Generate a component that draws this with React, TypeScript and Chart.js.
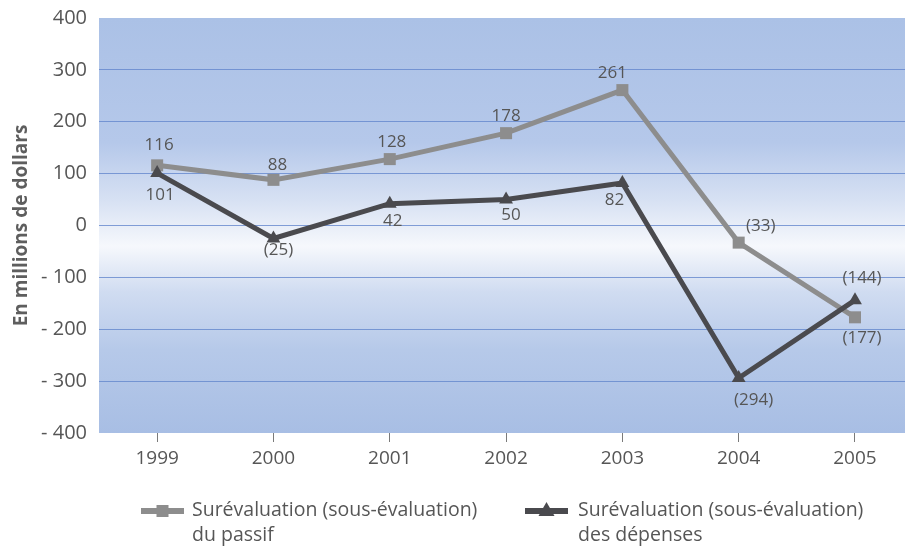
import { useEffect, useRef } from 'react';
import { Chart, registerables } from 'chart.js';

Chart.register(...registerables);

// Years on the horizontal axis
const years = [1999, 2000, 2001, 2002, 2003, 2004, 2005];

// Overstatement (understatement), in millions of dollars
const passif = [116, 88, 128, 178, 261, -33, -177];
const depenses = [101, -25, 42, 50, 82, -294, -144];

// Legend text, one entry per line
const passifLegend = ['Surévaluation (sous-évaluation)', 'du passif'];
const depensesLegend = ['Surévaluation (sous-évaluation)', 'des dépenses'];

const axisTitle = 'En millions de dollars';

// Where each value label sits relative to its point (dx, dy in px)
const passifLabelOffsets = [[2, -20], [4, -15], [2, -17], [0, -17], [-10, -17], [22, -16], [7, 21]];
const depensesLabelOffsets = [[3, 22], [5, 12], [3, 17], [5, 16], [-8, 17], [15, 22], [7, -22]];

const PASSIF_COLOR = '#8d8d8d';
const DEPENSES_COLOR = '#4a4a4e';
const TEXT_COLOR = '#565656';
const FONT = '"Open Sans", "Noto Sans", sans-serif';

const fmtValue = (v: number) => (v < 0 ? `(${Math.abs(v)})` : `${v}`);

const backgroundPlugin = {
  id: 'plotBackground',
  beforeDraw(chart: any) {
    const { ctx, chartArea } = chart;
    if (!chartArea) return;
    const { left, top, right, bottom } = chartArea;
    const g = ctx.createLinearGradient(0, top, 0, bottom);
    g.addColorStop(0, '#abc1e6');
    g.addColorStop(0.3, '#b5c8ea');
    g.addColorStop(0.44, '#d7e1f3');
    g.addColorStop(0.55, '#f6f8fc');
    g.addColorStop(0.66, '#d0dcf1');
    g.addColorStop(0.8, '#b6c9e9');
    g.addColorStop(1, '#a8bee4');
    ctx.save();
    ctx.fillStyle = g;
    ctx.fillRect(left, top, right - left, bottom - top);
    ctx.restore();
  },
};

const valueLabelPlugin = {
  id: 'valueLabels',
  afterDatasetsDraw(chart: any) {
    const { ctx } = chart;
    const offsets = [passifLabelOffsets, depensesLabelOffsets];
    ctx.save();
    ctx.font = `17px ${FONT}`;
    ctx.fillStyle = TEXT_COLOR;
    ctx.textAlign = 'center';
    ctx.textBaseline = 'middle';
    chart.data.datasets.forEach((ds: any, di: number) => {
      const meta = chart.getDatasetMeta(di);
      meta.data.forEach((pt: any, i: number) => {
        const [dx, dy] = offsets[di][i];
        ctx.fillText(fmtValue(ds.data[i].y), pt.x + dx, pt.y + dy);
      });
    });
    ctx.restore();
  },
};

const legendPlugin = {
  id: 'bottomLegend',
  afterDraw(chart: any) {
    const { ctx } = chart;
    const items = [
      { lines: passifLegend, color: PASSIF_COLOR, style: 'rect', x: 141, textX: 192 },
      { lines: depensesLegend, color: DEPENSES_COLOR, style: 'triangle', x: 525, textX: 578 },
    ];
    const y = 511;
    ctx.save();
    items.forEach((it) => {
      ctx.strokeStyle = it.color;
      ctx.lineWidth = 6;
      ctx.beginPath();
      ctx.moveTo(it.x, y);
      ctx.lineTo(it.x + 43, y);
      ctx.stroke();
      ctx.fillStyle = it.color;
      const cx = it.x + 21.5;
      if (it.style === 'rect') {
        ctx.fillRect(cx - 6, y - 6, 12, 12);
      } else {
        ctx.beginPath();
        ctx.moveTo(cx, y - 9);
        ctx.lineTo(cx + 8, y + 5);
        ctx.lineTo(cx - 8, y + 5);
        ctx.closePath();
        ctx.fill();
      }
      ctx.font = `19.5px ${FONT}`;
      ctx.fillStyle = TEXT_COLOR;
      ctx.textAlign = 'left';
      ctx.textBaseline = 'middle';
      it.lines.forEach((line, li) => {
        ctx.fillText(line, it.textX, y - 1 + li * 25);
      });
    });
    ctx.restore();
  },
};

export default function App() {
  const canvasRef = useRef<HTMLCanvasElement | null>(null);

  useEffect(() => {
    const canvas = canvasRef.current;
    if (!canvas) return;
    const chart = new Chart(canvas, {
      type: 'line',
      data: {
        datasets: [
          {
            label: passifLegend.join(' '),
            data: years.map((yr, i) => ({ x: yr, y: passif[i] })),
            borderColor: PASSIF_COLOR,
            backgroundColor: PASSIF_COLOR,
            borderWidth: 5,
            pointStyle: 'rect',
            pointRadius: 8.5,
            pointBorderWidth: 0,
            tension: 0,
            order: 2,
          },
          {
            label: depensesLegend.join(' '),
            data: years.map((yr, i) => ({ x: yr, y: depenses[i] })),
            borderColor: DEPENSES_COLOR,
            backgroundColor: DEPENSES_COLOR,
            borderWidth: 5,
            pointStyle: 'triangle',
            pointRadius: 8,
            pointBorderWidth: 0,
            tension: 0,
            order: 1,
          },
        ],
      },
      options: {
        responsive: false,
        animation: false,
        layout: { autoPadding: false, padding: { top: 18, right: 0, bottom: 0, left: 0 } },
        plugins: {
          legend: { display: false },
          tooltip: { enabled: false },
        },
        scales: {
          x: {
            type: 'linear',
            min: 1998.5,
            max: 2005.43,
            afterBuildTicks: (s: any) => {
              s.ticks = years.map((v) => ({ value: v }));
            },
            afterFit: (s: any) => {
              s.height = 113;
              s.paddingLeft = 0;
              s.paddingRight = 0;
            },
            ticks: {
              callback: (v: any) => String(v),
              font: { family: FONT, size: 19 },
              color: TEXT_COLOR,
              padding: 5,
              maxRotation: 0,
            },
            grid: {
              drawOnChartArea: false,
              drawTicks: true,
              tickLength: 9,
              color: '#7a7a7a',
              lineWidth: 1,
            },
            border: { display: false },
          },
          y: {
            min: -400,
            max: 400,
            afterFit: (s: any) => {
              s.width = 99;
              s.paddingTop = 0;
              s.paddingBottom = 0;
            },
            ticks: {
              stepSize: 100,
              callback: (v: any) => (v < 0 ? `- ${-v}` : `${v}`),
              font: { family: FONT, size: 20 },
              color: TEXT_COLOR,
              padding: 12,
            },
            grid: {
              drawTicks: false,
              color: (c: any) =>
                c.tick && (c.tick.value === 400 || c.tick.value === -400)
                  ? 'rgba(0,0,0,0)'
                  : 'rgba(100,135,205,0.8)',
              lineWidth: 1,
            },
            border: { display: false },
            title: {
              display: true,
              text: axisTitle,
              font: { family: FONT, size: 19, weight: 'bold' },
              color: '#5e5e5e',
              padding: { top: 10, bottom: 0 },
            },
          },
        },
      },
      plugins: [backgroundPlugin, valueLabelPlugin, legendPlugin],
    });
    return () => chart.destroy();
  }, []);

  return (
    <div style={{ position: 'fixed', left: 0, top: 0, width: 905, height: 546, background: '#fff' }}>
      <canvas ref={canvasRef} width={905} height={546} />
    </div>
  );
}
